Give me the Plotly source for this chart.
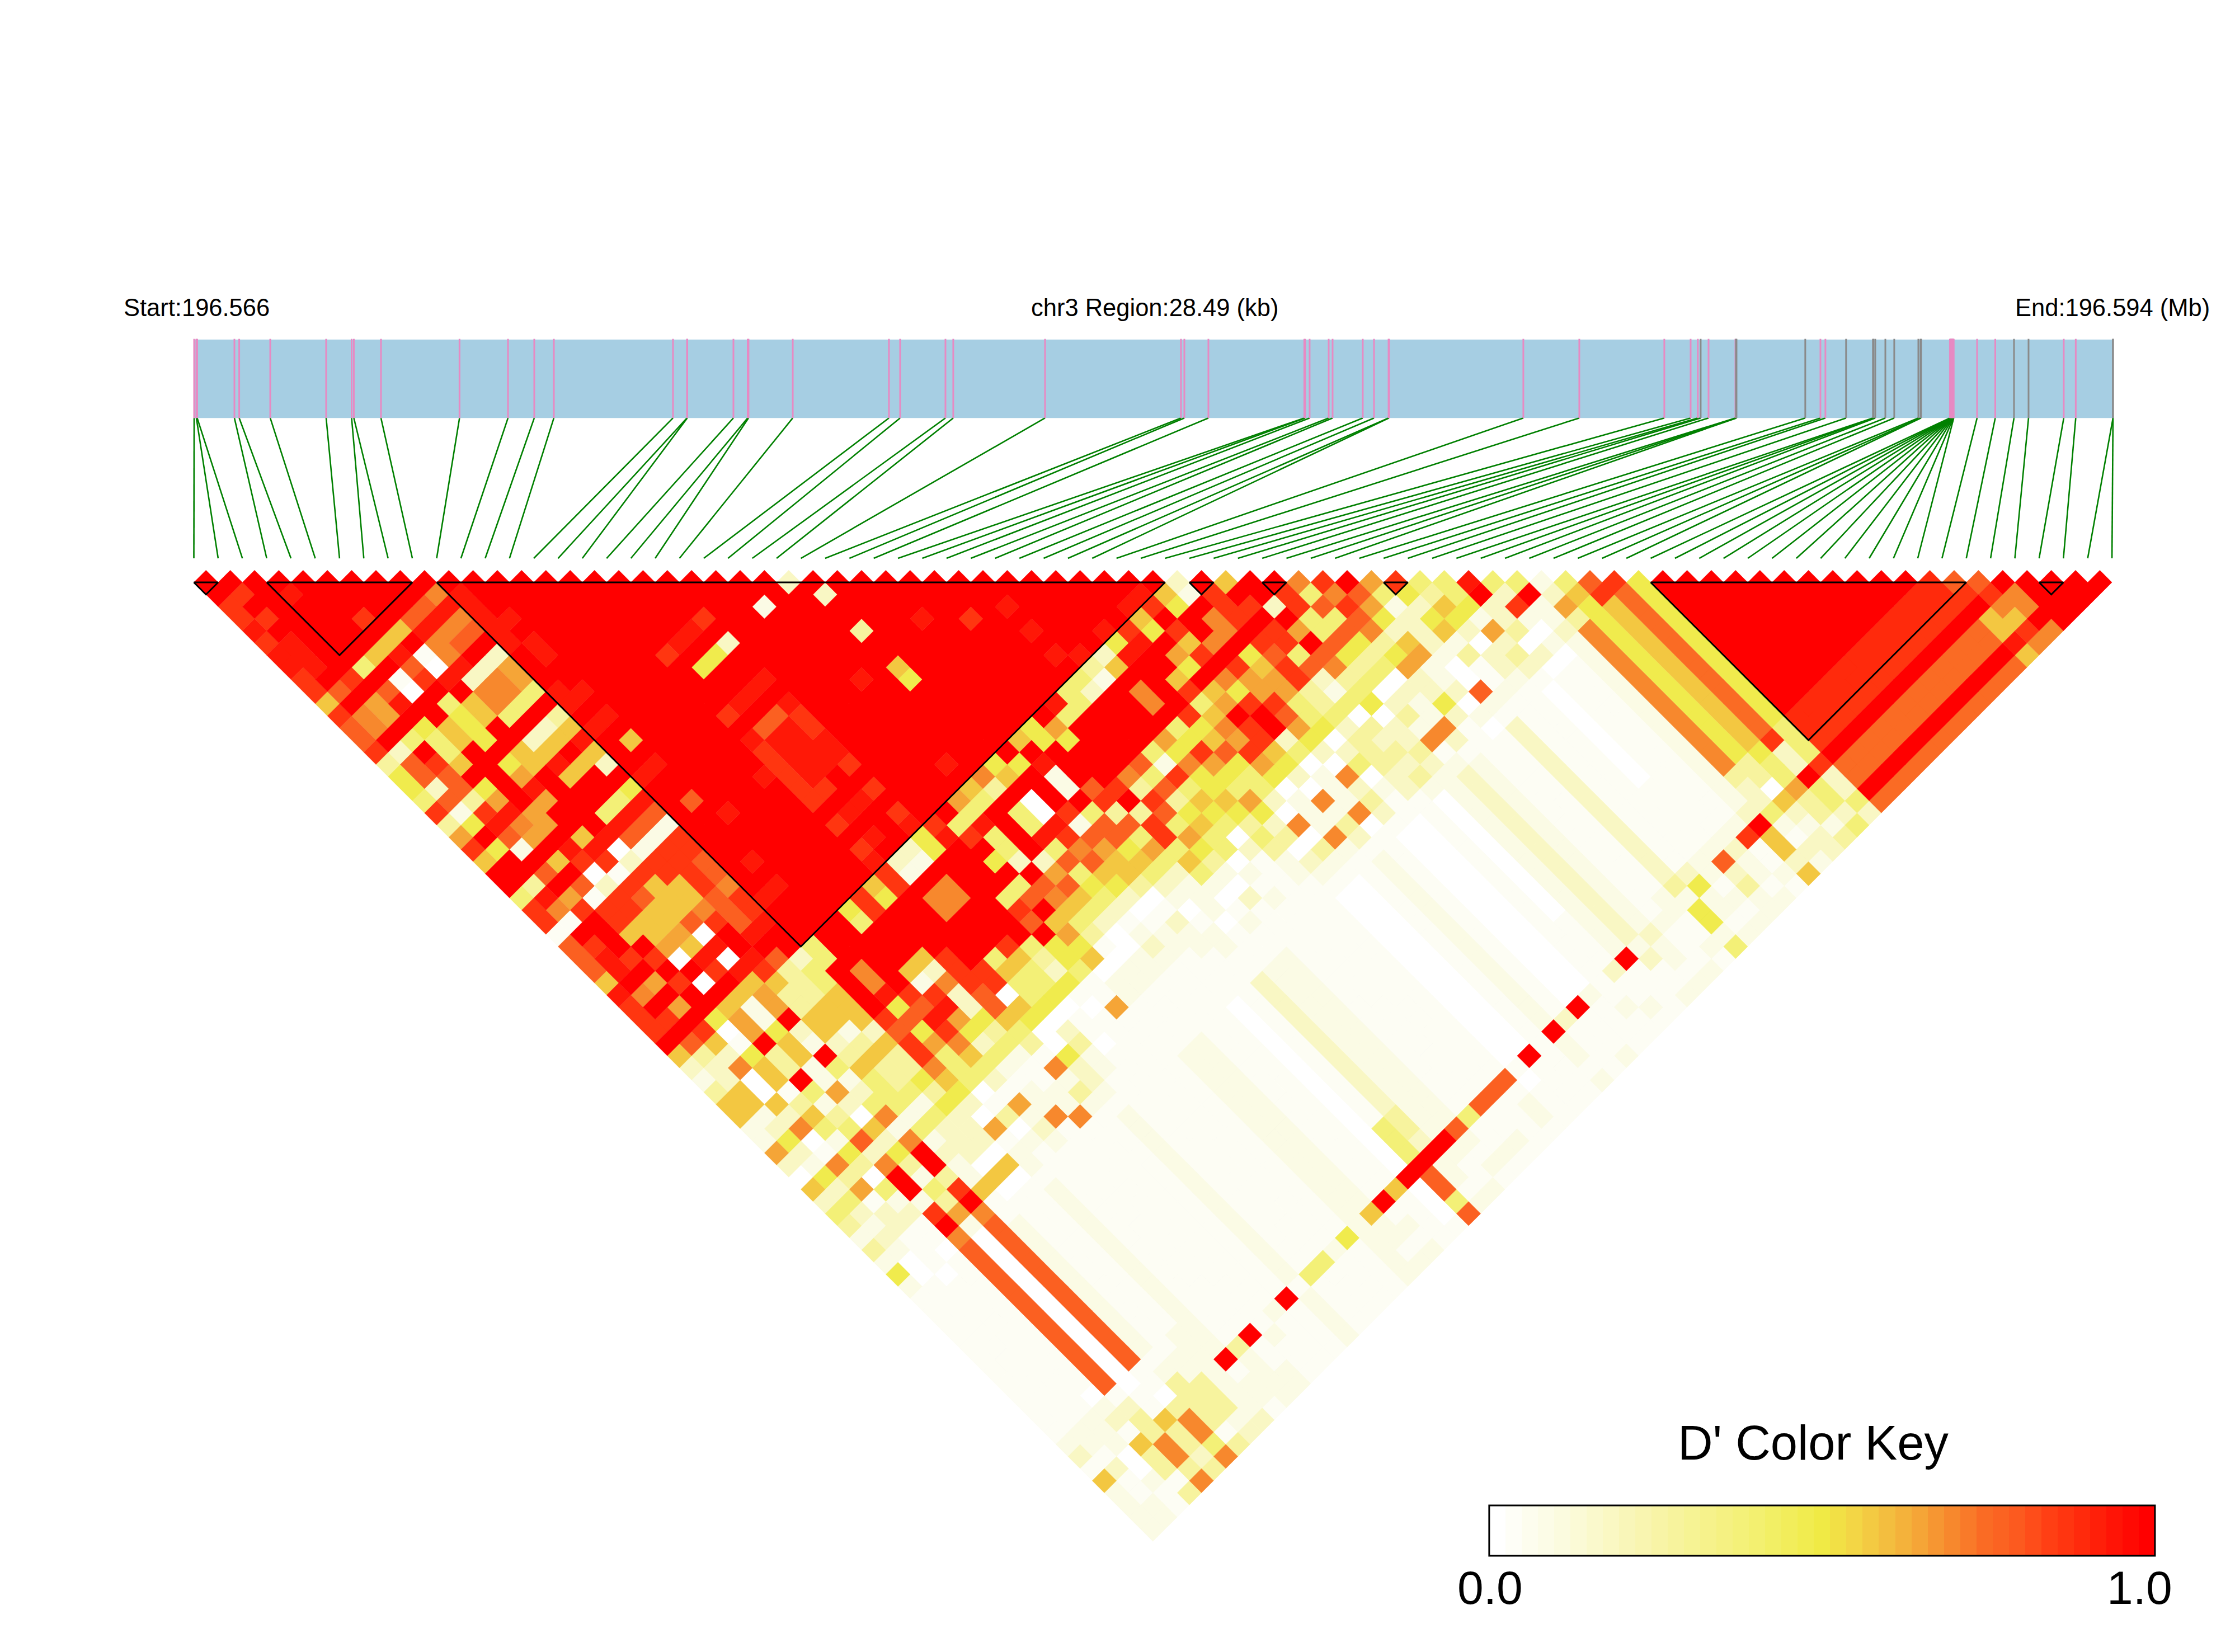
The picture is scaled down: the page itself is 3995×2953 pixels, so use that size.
import numpy as np
import plotly.graph_objects as go

# D' value classes
CODE_VALUES = {'.': 0.0, 'a': .03, 'b': .08, 'c': .17, 'd': .27, 'e': .38, 'f': .48, 'g': .58,
               'h': .65, 'i': .70, 'n': .75, 'j': .78, 'k': .87, 'p': .90, 'l': .94, 'm': 1.0}
KEY_STOPS = [0, .05, .1, .25, .4, .5, .55, .6, .65, .7, .75, .8, .85, .9, .95, 1]
KEY_COLORS = ['#FFFFFF', '#FDFDEE', '#FBFBDF', '#F8F4A6', '#F3F070', '#F0EA45', '#F3D645', '#F3BE3F',
              '#F5A537', '#F7882D', '#FA6B24', '#FC5A1F', '#FF3F14', '#FF2A0C', '#FF1406', '#FF0000']

SNP_KB = [0, .033, .045, .598, .669, 1.130, 1.960, 2.338, 2.371, 2.774,
          3.940, 4.660, 5.050, 5.341, 7.110, 7.318, 7.322, 8.007, 8.219, 8.231,
          8.888, 10.316, 10.482, 11.155, 11.271, 12.634, 14.652, 14.702, 15.059, 16.483,
          16.496, 16.562, 16.845, 16.903, 17.351, 17.518, 17.734, 17.742, 19.735, 20.566,
          21.828, 22.219, 22.326, 22.368, 22.485, 22.884, 22.892, 22.900, 23.921, 24.146,
          24.220, 24.527, 24.926, 24.934, 24.960, 25.110, 25.242, 25.600, 25.633, 25.641,
          26.069, 26.075, 26.080, 26.085, 26.090, 26.095, 26.100, 26.105, 26.110, 26.115,
          26.120, 26.125, 26.472, 26.742, 27.020, 27.236, 27.759, 27.937, 28.490, 28.490]
GREY_SNPS = [43, 46, 47, 48, 51, 52, 53, 54, 55, 56, 57, 58, 59, 74, 75, 78, 79]
REGION_KB = 28.49

BLOCKS = [(0, 1), (3, 9), (10, 40), (41, 42), (44, 45), (49, 50), (60, 73), (76, 77)]

# one string per SNP i; groups are decades of j, last group j=71..79
LD_ROWS = [
"mmkklkllkk gkjjkdffek dhkgmmekka jjjglkkkmg cbdggbbhc. gcedbdbfba aaaaaaaaaa abcagbbbb",
"mkmkmlllm jmiimcjjcj bfmfmmdlia mkllmimkmj dccggbcfcb fcecbcb..a aaaaaaaaaa abbacaabb",
"mmmmmmmm kmhhmemkjj dkljbmjmhk mmmkmhmhmk gci..gci.a idhaccaaa. aaaaaaaaaa abbb..baa",
"mlmmmmm emjlmfeegm fhlihmgmja kkgmkmkmmf .afggadgeb fd.ebcaa.a aaaaaaaaaa .bcagddad",
"mmmmmm gma.mmggmm mmmhhmlk.c kkggh.m.mg hhmddmebde jcimmbkmij jjjjjjjjjj jacddiidi",
"mmmkm gljkmefffm fhlhmmglka kjgghglkmg bbfggbbhc. gcfdbedhb. .......... ..aagddcd",
"mmmm gma.lmggmm ggmmmmml.c kgggj.l.lg hhmcbmebce ibimmdkmij jjjjjjjjjj jaa.diiei",
"mmm jliilciiem cglgmmeljb kkggikmmlk gddggcdgee ebebcbbgaa bbbbbbbbbb babddddad",
"mm jlijmciiem cgmgmmeljb kkkkjjjlmj dddggbdgdd ebeccc.g.a aaaaaaaaaa aabbdddbc",
"m ilijmchhem dglgcmfljb kkjjikklmm ceegggcgdd fdfccc.g.a aaaaaaaaaa abbbbbbbc",
"mlllllmmml lmlmmmlmmm mmmmmmlmmm eemmmmkjkk igfc.habba bbbbbbbbbb bbbbmabba",
"mmmlmllmm lmlmgmlmmj mmmmlmlmmm mmmiilfjfh eee.ad.baa aaaaaaaaaa aaaadbbbb",
"mmmmmmmm mmmmmmmmmm mlmmmmmmmm mmmmmmkjlk igecahbcba aaaaaaaaaa aaaamaabb",
"mmmmmmm mmmmmmmmmm mmmmmmmmmm femmmgbklh fcebabbiaa aaaaaaaaaa aaaaabaaa",
"mmmmmm mmmmmmmmmm mmmmmmmmmm kkmmmgcicc fdebaabbia aaaaaaaaaa aaaabaaaa",
"mmmmm mmmmmmmmmm mlmmmmmmmm gfmmmmkkkj jgedaibdba aaaaaaaaaa aaaamaaaa",
"mmmm mmkmmmmkml kkkkkmkmkl kkmmmmmmkk .gf..fccba bbbbbbbbbb bbbbabbbb",
"mmm mmlmfmmlmj llllkmlmlm cbmiimmmeg eef.cdbbaa aaaaaaaaaa aaaaeaaaa",
"mm mmlmfmmlmj llllmmlmmm cbmiimmmkg eef.aa.aaa aaaaaaaaaa aaaaeaaaa",
"m mmkmcmmlml kkllkmkmkl ffmmmmmmme dcfa.aaaaa aaaaaaaaaa aaaabaaaa",
"mmmmmmmmmm mmmmmmmmmm klmmmmekjm ffeaahaaaa aaaaaaaaaa aaaafaaaa",
"mmmmmmmmm mmmmmmmmmm mekmfmejmg hfg.bbaaaa bbbbbbbbbb bbbbbbbbb",
"mmbmmmmm mmmmmmmmmm heleecmjig eda.bbaaaa bbbbbbbbbb bbbbgbbab",
"mmmmmmm mlmmmmmmlm gemmmmchjg ec..bbaaaa aaaaaaaaaa aaaamabab",
"cmmmmm mmmmmmmmmm idmeelejef ecabcbaaaa aaaaaaaaaa aaaagaaaa",
"mcmmd mmgfmmmmmm fgm..lkijg fc.abbaaaa .......... ....m...a",
"mmmm mmmmmmmmmm mfmmmkbjhg gd.acbbaaa aaaaaaaaaa aeeemjjej",
"mmm mmmmmmmmmm gmlbbmejjf gecb.abbaa cccccccccc cddcmbbab",
"mm mlmmmmmmmm ffmmmjkdje hecbbb.aaa bbbbbbbbbb bbbbmbaab",
"m mmmmmmmmmm mhfmmmkmdk kegeb.abaa bbbbbbbbbb bbbbjbaba",
"mmmkmmmmmm lemmmmidkj ehfdb.caaa aaaaaaaaaa aaaaeaaba",
"mmmmmmmmm eemmmmjejd fgee.babaa aaaaaaaaaa aaaajaaba",
"mmlmlmlm ecmmmmebke gfe.caaaaa aaaaaaaaaa aaaajaaaa",
"mmmmmml dbmmmmhfif fgfdedbbaa aaaaaaaaaa aaaajabba",
"mmmmmm cgmiimefkh fehfcd.cba .......... ....a.aaa",
"mmmml flmmmmkfgj feec.i.dba .......... ....maaaa",
"mmmm klmmgkegih khf.bbbiba aaaaaaaaaa aaaaaaaaa",
"mml gfmhfmghmk kgfc.ibdca bbbbbbbbbb bbbbmbbab",
"ml kmkgkmifkm mce.bbbi.a aaaaaaaaaa aaaacaaaa",
"m gfmmimkhhk jhfc.icdca .......... ....maaab",
"cbmiimfghh eef.ce.baa .......... ....baaaa",
"mkkkmkjkk ddecdddcca aaaaaaaaaa aaaaaabaa",
"gmkmkkej cbe.dcdcdb .......... aaaacaaba",
"mmcmhmj idef.ccdcb bbbbbbbbbb bbbbmaaaa",
"mkkeej fde.cdbiab cccccccccc ccccbcaab",
"iejej fde.cbbica bbbbbbbbbb bbbbcbbab",
"kikj idfhccfcaa aaaaaaaaaa aaaabaaab",
"mjh fcghbbc.b. aaaaaaaaaa aaabbaaba",
"he bcccb..jba cccccccccc cccdbffbe",
"k fcfgbdaaba aaaaaaaaaa aaacfbbab",
"edgfc.ccba aaaaaaaaaa aaabbabab",
"eefbhcdca ........aa aaabjcdbb",
"lmccd.c. aaaaaaaaaa aaabcbbab",
"eckb.b. aaaaaaaaaa aaabkaaba",
"embbcb bbbbbbbbbb bbbcmggcg",
"bchdi iiiiiiiiii idccebacb",
"egff ffffffffff fdd.gcbcc",
"jkg gggggggggg gfeehddbd",
"kn nnnnnnnnnn nkccmeece",
"f ffffffffff feeekccec",
"mmmmmmmmmm mppkmnnmn",
"mmmmmmmmm mppkmnnmn",
"mmmmmmmm mppkmnnmn",
"mmmmmmm mppkmnnmn",
"mmmmmm mppkmnnmn",
"mmmmm mppkmnnmn",
"mmmm mppkmnnmn",
"mmm mppkmnnmn",
"mm mppkmnnmn",
"m mppkmnnmn",
"mppkmnnmn",
"ppkmnnmn",
"jkmgglg",
"jkigki",
"miimi",
"mmmm",
"mmm",
"mm",
"m",
]


def key_color(v):
    rgb = [int(np.interp(v, KEY_STOPS, [int(c[k:k + 2], 16) for c in KEY_COLORS])) for k in (1, 3, 5)]
    return 'rgb(%d,%d,%d)' % tuple(rgb)


cells = {c: ([], []) for c in CODE_VALUES}
N_SNP = len(SNP_KB)
for i, row in enumerate(LD_ROWS):
    toks = row.split()
    filled = {}
    for back, tok in enumerate(reversed(toks)):
        d = 7 - back
        start = max(i + 1, 10 * d + 1)
        end = min(10 * d + 10, N_SNP - 1)
        for k, ch in enumerate(tok):
            if start + k <= end:
                filled[start + k] = ch
    for j in range(i + 1, N_SNP):
        ch = filled.get(j, 'a')
        cx, cy = (i + j) / 2, (j - i - 1) / 2
        cells[ch][0].extend([cx - .5, cx, cx + .5, cx, cx - .5, None])
        cells[ch][1].extend([cy, cy - .5, cy, cy + .5, cy, None])

fig = go.Figure()
for ch, (xs, ys) in cells.items():
    if xs and ch != '.':
        col = key_color(CODE_VALUES[ch])
        fig.add_trace(go.Scatter(x=xs, y=ys, mode='lines', fill='toself', fillcolor=col,
                                 line=dict(width=0.4, color=col), hoverinfo='skip', showlegend=False))

# block outlines
bx, by = [], []
for a, b in BLOCKS:
    bx += [a, b, (a + b) / 2, a, None]
    by += [0, 0, (b - a) / 2, 0, None]
fig.add_trace(go.Scatter(x=bx, y=by, mode='lines', line=dict(color='black', width=3), showlegend=False, hoverinfo='skip'))

# map position on the chromosome to the slot axis
SLOTS = 79.03
TRACK_TOP, TRACK_BOTTOM, LINK_END = -10.0, -6.77, -0.99
kb2x = lambda kb: kb / REGION_KB * SLOTS + 0.012

# gene map links
lx, ly = [], []
for i, kb in enumerate(SNP_KB):
    lx += [kb2x(kb), i, None]
    ly += [TRACK_BOTTOM, LINK_END, None]
fig.add_trace(go.Scatter(x=lx, y=ly, mode='lines', line=dict(color='#008000', width=2.6), showlegend=False, hoverinfo='skip'))

shapes = [dict(type='rect', xref='x', yref='y', x0=kb2x(0), x1=kb2x(REGION_KB), y0=TRACK_TOP, y1=TRACK_BOTTOM,
               fillcolor='#A6CEE3', line=dict(width=0), layer='below')]
px, py, gx, gy = [], [], [], []
for i, kb in enumerate(SNP_KB):
    (gx if i in GREY_SNPS else px).extend([kb2x(kb), kb2x(kb), None])
    (gy if i in GREY_SNPS else py).extend([TRACK_TOP - .03, TRACK_BOTTOM, None])
fig.add_trace(go.Scatter(x=px, y=py, mode='lines', line=dict(color='#E78AC3', width=3), showlegend=False, hoverinfo='skip'))
fig.add_trace(go.Scatter(x=gx, y=gy, mode='lines', line=dict(color='#8A8A8A', width=3), showlegend=False, hoverinfo='skip'))

# colour key
KEY_BINS = 41
KEY_X0, KEY_X1, KEY_Y0, KEY_Y1 = 53.35, 80.77, 38.02, 40.09
edges = np.linspace(KEY_X0, KEY_X1, KEY_BINS + 1).tolist()
fig.add_trace(go.Heatmap(x=edges, y=[KEY_Y0, KEY_Y1], z=[[k / (KEY_BINS - 1) for k in range(KEY_BINS)]],
                         zmin=0, zmax=1, showscale=False, hoverinfo='skip',
                         colorscale=[[s, c] for s, c in zip(KEY_STOPS, KEY_COLORS)]))
shapes.append(dict(type='rect', xref='x', yref='y', x0=KEY_X0, x1=KEY_X1, y0=KEY_Y0, y1=KEY_Y1,
                   line=dict(color='black', width=3)))

FONT = 'Liberation Sans, Arial, sans-serif'
W, H = 3995, 2953


def label(text, xpx, ypx, size, anchor):
    return dict(text=text, xref='paper', yref='paper', x=xpx / W, y=1 - ypx / H, showarrow=False,
                xanchor=anchor, yanchor='middle', font=dict(family=FONT, size=size, color='black'))


annotations = [
    label('Start:196.566', 219, 550, 43.5, 'left'),
    label('chr3 Region:28.49 (kb)', 2064, 550, 43.5, 'center'),
    label('End:196.594 (Mb)', 3952, 550, 43.5, 'right'),
    label("D' Color Key", 3241, 2579, 86.7, 'center'),
    label('0.0', 2663, 2838, 84, 'center'),
    label('1.0', 3824, 2838, 84, 'center'),
]

U = 43.4
fig.update_layout(width=W, height=H, margin=dict(l=0, r=0, t=0, b=0), paper_bgcolor='white', plot_bgcolor='white',
                  shapes=shapes, annotations=annotations, showlegend=False,
                  xaxis=dict(range=[-346.5 / U, (W - 346.5) / U], visible=False, fixedrange=True),
                  yaxis=dict(range=[(H - 1041) / U, -1041 / U], visible=False, fixedrange=True))
fig.write_html('out.html', config={'displayModeBar': False},
               post_script="document.body.style.margin='0';document.body.style.background='white';")
